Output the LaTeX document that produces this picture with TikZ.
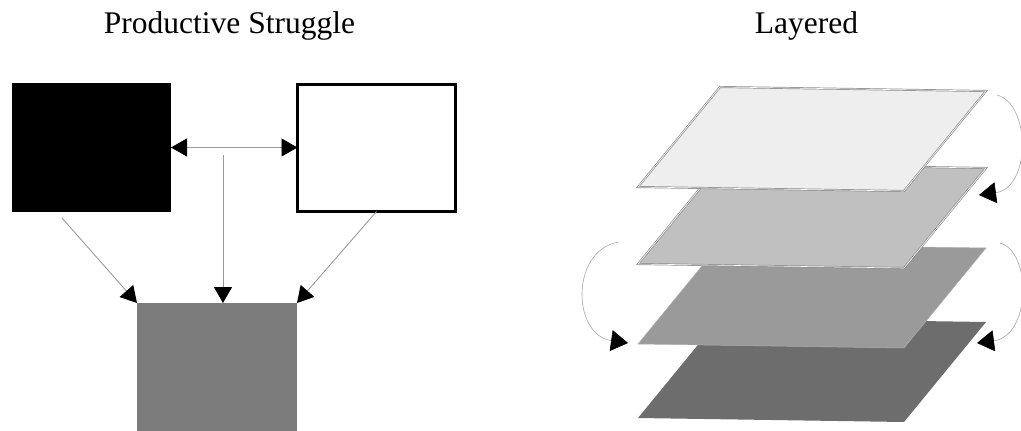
\documentclass[tikz,border=0pt]{standalone}
\usepackage{fontspec}
\setmainfont{Liberation Serif}
\usetikzlibrary{arrows.meta}

\definecolor{linegray}{HTML}{9A9A9A}
\definecolor{arcgray}{HTML}{A8A8A8}
\definecolor{boxgray}{HTML}{7A7B7A}
\definecolor{layerA}{HTML}{EEEEEE}
\definecolor{layerB}{HTML}{C0C0C0}
\definecolor{layerC}{HTML}{9A9A9B}
\definecolor{layerD}{HTML}{6C6D6C}
\definecolor{edgegray}{HTML}{8C8C8C}

\tikzset{
  title/.style={anchor=base, font=\fontsize{31.5}{37}\selectfont, inner sep=0pt},
  panel/.style={rectangle, inner sep=0pt, outer sep=0pt},
  link/.style={draw=linegray, line width=0.9pt,
    -{Triangle[length=16pt, width=18pt, color=black]}},
  twolink/.style={draw=linegray, line width=0.9pt,
    {Triangle[length=16pt, width=18pt, color=black]}-{Triangle[length=16pt, width=18pt, color=black]}},
  turn/.style={draw=arcgray, line width=0.6pt,
    -{Triangle[length=17pt, width=21pt, color=black]}},
  sheet/.style={line join=miter},
  framedsheet/.style={sheet, draw=edgegray, line width=0.7pt, double=white, double distance=0.6pt},
}

\begin{document}
\begin{tikzpicture}[x=1pt, y=-1pt]
\useasboundingbox (0,0) rectangle (1021,431);

% ---------- left panel ----------
\node[title] (ttlA) at (229.5,33) {Productive Struggle};

\node[panel, fill=black, minimum width=159pt, minimum height=129pt]
  (dark) at (91.5,147.5) {};
\node[panel, fill=white, draw=black, line width=2.2pt,
      minimum width=158pt, minimum height=127pt]
  (light) at (376.5,148) {};
\node[panel, fill=boxgray, minimum width=160pt, minimum height=140pt, anchor=north]
  (mid) at (217,303) {};

\coordinate (fromdark) at (62,218);
\coordinate (fromjoin) at (223,155);

\draw[twolink] (dark.east) -- (light.west |- dark.east);
\draw[link] (fromjoin) -- (mid.north -| fromjoin);
\draw[link] (fromdark) -- (mid.north west);
\draw[link] (light.south) -- (mid.north east);

% ---------- right panel ----------
\node[title] (ttlB) at (806.5,33) {Layered};

% stacked sheets, back to front
\fill[sheet, layerD] (720,318) -- (986,322) -- (904,422) -- (638,418) -- cycle;
\draw[sheet, fill=layerC, draw=layerC!80!white, line width=0.5pt]
  (720,244) -- (986,248) -- (904,348) -- (638,344) -- cycle;
\draw[framedsheet, fill=layerB] (720,164) -- (986,168) -- (904,268) -- (638,264) -- cycle;
\draw[framedsheet, fill=layerA] (720,87) -- (986,91) -- (904,191) -- (638,187) -- cycle;

% curved arrows between sheets
\coordinate (r1s) at (997,95);
\coordinate (r1e) at (979,195);
\coordinate (r2s) at (1000,243);
\coordinate (r2e) at (977,343);
\coordinate (l1s) at (619,242);
\coordinate (l1e) at (628,343);

\draw[turn] (r1s) .. controls (1031,104) and (1031,188) .. (r1e);
\draw[turn] (r2s) .. controls (1032,252) and (1031,336) .. (r2e);
\draw[turn] (l1s) .. controls (570,250) and (572,335) .. (l1e);
\end{tikzpicture}
\end{document}
